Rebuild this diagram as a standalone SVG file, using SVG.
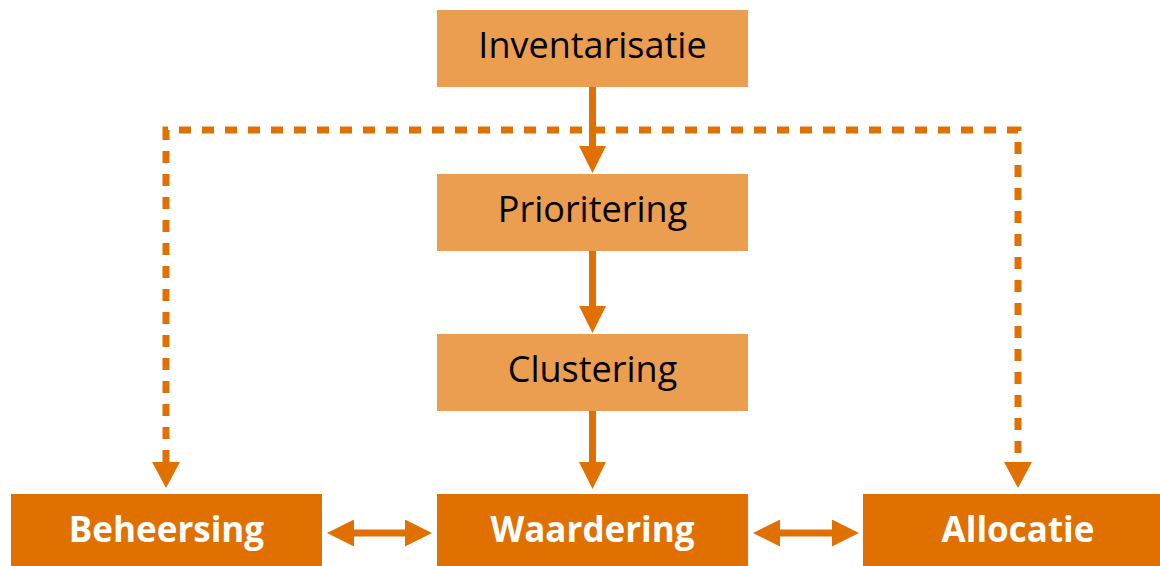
<svg xmlns="http://www.w3.org/2000/svg" width="1160" height="566" viewBox="0 0 1160 566">
<defs>
<style>
.light{fill:#EB9D50}
.dark{fill:#E07000}
.t1{font-family:"Open Sans","Liberation Sans",sans-serif;font-size:36px;fill:#000;text-anchor:middle}
.t2{font-family:"Open Sans","Liberation Sans",sans-serif;font-size:35px;font-weight:bold;fill:#fff;text-anchor:middle}
.solid{stroke:#E07000;stroke-width:7;fill:none}
.dash{stroke:#E07000;stroke-width:7;fill:none;stroke-dasharray:12 11}
</style>
<marker id="ah" viewBox="0 0 28 27" refX="1" refY="13.5" markerWidth="28" markerHeight="27" markerUnits="userSpaceOnUse" orient="auto-start-reverse">
<path d="M0,0 L27,13.5 L0,27 Z" fill="#E07000"/>
</marker>
</defs>
<g id="inventarisatie"><rect class="light" x="437" y="10" width="311" height="77"/><text class="t1" x="592.5" y="58">Inventarisatie</text></g>
<g id="prioritering"><rect class="light" x="437" y="174" width="311" height="77"/><text class="t1" x="592.5" y="222">Prioritering</text></g>
<g id="clustering"><rect class="light" x="437" y="334" width="311" height="77"/><text class="t1" x="592.5" y="382">Clustering</text></g>
<g id="beheersing"><rect class="dark" x="11" y="494" width="311" height="77"/><text class="t2" x="166.5" y="542">Beheersing</text></g>
<g id="waardering"><rect class="dark" x="437" y="494" width="311" height="77"/><text class="t2" x="592.5" y="542">Waardering</text></g>
<g id="allocatie"><rect class="dark" x="863" y="494" width="311" height="77"/><text class="t2" x="1018" y="542">Allocatie</text></g>
<g id="connectors">
<path class="dash" d="M166,462 V130 H1018 V462"/>
<path d="M152,462 L180,462 L166,488 Z" fill="#E07000"/>
<path d="M1004,462 L1032,462 L1018,488 Z" fill="#E07000"/>
<line class="solid" x1="592.5" y1="87" x2="592.5" y2="147" marker-end="url(#ah)"/>
<line class="solid" x1="592.5" y1="251" x2="592.5" y2="307" marker-end="url(#ah)"/>
<line class="solid" x1="592.5" y1="411" x2="592.5" y2="463" marker-end="url(#ah)"/>
<line class="solid" x1="353" y1="533" x2="406" y2="533" marker-start="url(#ah)" marker-end="url(#ah)"/>
<line class="solid" x1="779" y1="533" x2="833" y2="533" marker-start="url(#ah)" marker-end="url(#ah)"/>
</g>
</svg>
